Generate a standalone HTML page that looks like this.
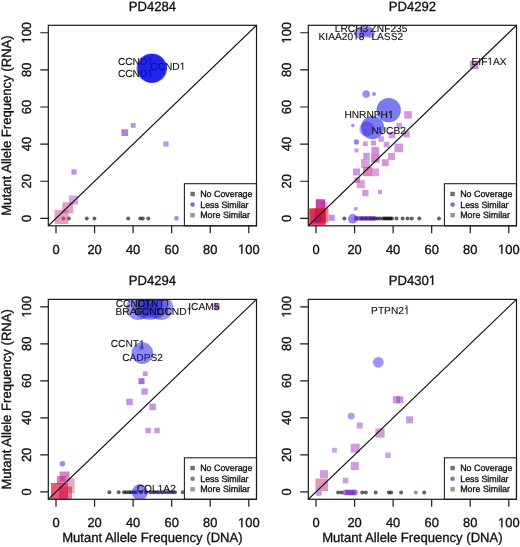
<!DOCTYPE html><html><head><meta charset="utf-8"><style>html,body{margin:0;padding:0;background:#fff;}svg{display:block;filter:blur(0.4px);}text{font-family:"Liberation Sans", sans-serif;text-rendering:geometricPrecision;fill:#111;stroke:#111;stroke-width:0.32px;}text.g{stroke-width:0.1px;}</style></head><body>
<svg width="520" height="547" viewBox="0 0 520 547">
<rect width="520" height="547" fill="#fff"/>
<clipPath id="clip0"><rect x="48.3" y="25.3" width="208.2" height="200.5"/></clipPath>
<g transform="translate(152.4 10.7) scale(1 1.02)">
<text class="t" x="-23.67" y="0" font-size="13.1">PD4284</text>
</g>
<g clip-path="url(#clip0)">
<circle cx="63.4" cy="218.4" r="2" fill="#000" fill-opacity="0.62"/>
<circle cx="68.8" cy="218.4" r="2" fill="#000" fill-opacity="0.62"/>
<circle cx="86.8" cy="218.4" r="2" fill="#000" fill-opacity="0.62"/>
<circle cx="94.4" cy="218.4" r="2" fill="#000" fill-opacity="0.62"/>
<circle cx="128.2" cy="218.4" r="2" fill="#000" fill-opacity="0.62"/>
<circle cx="140.3" cy="218.4" r="2" fill="#000" fill-opacity="0.62"/>
<circle cx="142.8" cy="218.4" r="2" fill="#000" fill-opacity="0.62"/>
<circle cx="148.3" cy="218.4" r="2" fill="#000" fill-opacity="0.62"/>
<circle cx="151" cy="68.3" r="14.6" fill="#0808e8" fill-opacity="0.55"/>
<circle cx="176.4" cy="218.4" r="2.4" fill="#6a40d0" fill-opacity="0.6"/>
<rect x="71.4" y="169.4" width="5.2" height="5.2" fill="#9a60e0" fill-opacity="0.7"/>
<rect x="121.4" y="129.2" width="6.8" height="6.8" fill="#9a50d0" fill-opacity="0.75"/>
<rect x="130.8" y="123" width="4.8" height="4.8" fill="#9a60e0" fill-opacity="0.7"/>
<rect x="163.4" y="141.4" width="5.2" height="5.2" fill="#a068e0" fill-opacity="0.7"/>
<rect x="69.1" y="195.5" width="9" height="9" fill="#c060d0" fill-opacity="0.6"/>
<rect x="62.3" y="202.2" width="11" height="11" fill="#d050a0" fill-opacity="0.55"/>
<rect x="54.5" y="210" width="14" height="14" fill="#d85088" fill-opacity="0.55"/>
<line x1="48.3" y1="225.8" x2="256.5" y2="25.3" stroke="#111" stroke-width="1.15"/>
</g>
<g transform="translate(117.9 65.1)">
<text class="g" x="0" y="0" font-size="10.2">CCND</text>
<path transform="translate(29.46 0) scale(0.004980 -0.004980)" d="M515 0H696V1409H530L197 1180V1010L515 1237Z" fill="#111" stroke="#111" stroke-width="20.08"/>
</g>
<g transform="translate(117.9 76.5)">
<text class="g" x="0" y="0" font-size="10.2">CCND</text>
<path transform="translate(29.46 0) scale(0.004980 -0.004980)" d="M515 0H696V1409H530L197 1180V1010L515 1237Z" fill="#111" stroke="#111" stroke-width="20.08"/>
</g>
<g transform="translate(150.3 69.7)">
<text class="g" x="0" y="0" font-size="10.2">CCND</text>
<path transform="translate(29.46 0) scale(0.004980 -0.004980)" d="M515 0H696V1409H530L197 1180V1010L515 1237Z" fill="#111" stroke="#111" stroke-width="20.08"/>
</g>
<g clip-path="url(#clip0)">
<circle cx="152.3" cy="68" r="14.6" fill="#0808e8" fill-opacity="0.5"/>
<circle cx="152.6" cy="68.6" r="14.4" fill="#0808e8" fill-opacity="0.5"/>
</g>
<rect x="184.4" y="183.7" width="72.1" height="42.1" fill="#fff" stroke="#222" stroke-width="1.1"/>
<rect x="190.4" y="191.8" width="4.4" height="4.4" fill="#6e6e6e"/>
<text transform="translate(200.2 197.1) scale(1 1.02)" font-size="8.9">No Coverage</text>
<circle cx="192.6" cy="204.6" r="2.3" fill="#7676b4"/>
<text transform="translate(200.2 207.7) scale(1 1.02)" font-size="8.9">Less Similar</text>
<rect x="190.4" y="213" width="4.4" height="4.4" fill="#b48a8a"/>
<text transform="translate(200.2 218.3) scale(1 1.02)" font-size="8.9">More Similar</text>
<rect x="48.3" y="25.3" width="208.2" height="200.5" fill="none" stroke="#1a1a1a" stroke-width="1.2"/>
<text transform="translate(56.01 253.7) scale(1 1.02)" font-size="12.9" text-anchor="middle">0</text>
<text transform="translate(31 218.37) rotate(-90) scale(1 1.02)" font-size="12.9" text-anchor="middle">0</text>
<text transform="translate(94.57 253.7) scale(1 1.02)" font-size="12.9" text-anchor="middle">20</text>
<text transform="translate(31 181.24) rotate(-90) scale(1 1.02)" font-size="12.9" text-anchor="middle">20</text>
<text transform="translate(133.12 253.7) scale(1 1.02)" font-size="12.9" text-anchor="middle">40</text>
<text transform="translate(31 144.11) rotate(-90) scale(1 1.02)" font-size="12.9" text-anchor="middle">40</text>
<text transform="translate(171.68 253.7) scale(1 1.02)" font-size="12.9" text-anchor="middle">60</text>
<text transform="translate(31 106.99) rotate(-90) scale(1 1.02)" font-size="12.9" text-anchor="middle">60</text>
<text transform="translate(210.23 253.7) scale(1 1.02)" font-size="12.9" text-anchor="middle">80</text>
<text transform="translate(31 69.86) rotate(-90) scale(1 1.02)" font-size="12.9" text-anchor="middle">80</text>
<g transform="translate(248.79 253.7) scale(1 1.02)">
<path transform="translate(-10.76 0) scale(0.006299 -0.006299)" d="M515 0H696V1409H530L197 1180V1010L515 1237Z" fill="#111" stroke="#111" stroke-width="50.8"/>
<text x="-3.59" y="0" font-size="12.9">00</text>
</g>
<g transform="translate(31 32.73) rotate(-90) scale(1 1.02)">
<path transform="translate(-10.76 0) scale(0.006299 -0.006299)" d="M515 0H696V1409H530L197 1180V1010L515 1237Z" fill="#111" stroke="#111" stroke-width="50.8"/>
<text x="-3.59" y="0" font-size="12.9">00</text>
</g>
<path d="M56.01 225.8V233.2M48.3 218.37H40.2M94.57 225.8V233.2M48.3 181.24H40.2M133.12 225.8V233.2M48.3 144.11H40.2M171.68 225.8V233.2M48.3 106.99H40.2M210.23 225.8V233.2M48.3 69.86H40.2M248.79 225.8V233.2M48.3 32.73H40.2" stroke="#1a1a1a" stroke-width="1.2" fill="none"/>
<clipPath id="clip1"><rect x="308.3" y="25.3" width="208.2" height="200.5"/></clipPath>
<g transform="translate(412.4 10.7) scale(1 1.02)">
<text class="t" x="-23.67" y="0" font-size="13.1">PD4292</text>
</g>
<g clip-path="url(#clip1)">
<circle cx="344.4" cy="218.4" r="2" fill="#000" fill-opacity="0.62"/>
<circle cx="362" cy="218.4" r="2" fill="#000" fill-opacity="0.62"/>
<circle cx="366" cy="218.4" r="2" fill="#000" fill-opacity="0.62"/>
<circle cx="370" cy="218.4" r="2" fill="#000" fill-opacity="0.62"/>
<circle cx="372.5" cy="218.4" r="2" fill="#000" fill-opacity="0.62"/>
<circle cx="375" cy="218.4" r="2" fill="#000" fill-opacity="0.62"/>
<circle cx="377.5" cy="218.4" r="2" fill="#000" fill-opacity="0.62"/>
<circle cx="380" cy="218.4" r="2" fill="#000" fill-opacity="0.62"/>
<circle cx="383" cy="218.4" r="2" fill="#000" fill-opacity="0.62"/>
<circle cx="384.5" cy="218.4" r="2" fill="#000" fill-opacity="0.62"/>
<circle cx="386" cy="218.4" r="2" fill="#000" fill-opacity="0.62"/>
<circle cx="387.5" cy="218.4" r="2" fill="#000" fill-opacity="0.62"/>
<circle cx="389" cy="218.4" r="2" fill="#000" fill-opacity="0.62"/>
<circle cx="390.5" cy="218.4" r="2" fill="#000" fill-opacity="0.62"/>
<circle cx="392" cy="218.4" r="2" fill="#000" fill-opacity="0.62"/>
<circle cx="396.5" cy="218.4" r="2" fill="#000" fill-opacity="0.62"/>
<circle cx="402.6" cy="218.4" r="2" fill="#000" fill-opacity="0.62"/>
<circle cx="407.5" cy="218.4" r="2" fill="#000" fill-opacity="0.62"/>
<circle cx="411.7" cy="218.4" r="2" fill="#000" fill-opacity="0.62"/>
<circle cx="419.3" cy="218.4" r="2" fill="#000" fill-opacity="0.62"/>
<circle cx="439" cy="218.4" r="2" fill="#000" fill-opacity="0.62"/>
<circle cx="360" cy="32.7" r="6" fill="#5030e0" fill-opacity="0.5"/>
<circle cx="366" cy="31" r="6.5" fill="#6040e0" fill-opacity="0.5"/>
<circle cx="370" cy="33" r="5" fill="#6040e0" fill-opacity="0.5"/>
<circle cx="366.2" cy="94.1" r="3.8" fill="#6040e0" fill-opacity="0.6"/>
<circle cx="374" cy="94.1" r="2" fill="#6040e0" fill-opacity="0.6"/>
<circle cx="388.7" cy="110.1" r="12.2" fill="#0c0ce8" fill-opacity="0.55"/>
<circle cx="372.6" cy="127.6" r="11.6" fill="#0c0ce8" fill-opacity="0.55"/>
<circle cx="366.8" cy="129" r="7.5" fill="#3010d8" fill-opacity="0.35"/>
<circle cx="352.8" cy="125.5" r="1.7" fill="#6040e0" fill-opacity="0.6"/>
<circle cx="356.4" cy="142" r="2.7" fill="#5030e0" fill-opacity="0.6"/>
<circle cx="352.8" cy="218.8" r="4.8" fill="#5030e8" fill-opacity="0.6"/>
<circle cx="356" cy="218.4" r="2.3" fill="#5010b0" fill-opacity="0.6"/>
<circle cx="358.5" cy="218.4" r="2.3" fill="#5010b0" fill-opacity="0.6"/>
<circle cx="361" cy="218.4" r="2.3" fill="#5010b0" fill-opacity="0.6"/>
<circle cx="363.5" cy="218.4" r="2.3" fill="#5010b0" fill-opacity="0.6"/>
<circle cx="366" cy="218.4" r="2.3" fill="#5010b0" fill-opacity="0.6"/>
<circle cx="368.5" cy="218.4" r="2.3" fill="#5010b0" fill-opacity="0.6"/>
<circle cx="371" cy="218.4" r="2.3" fill="#5010b0" fill-opacity="0.6"/>
<circle cx="374" cy="218.4" r="2.3" fill="#5010b0" fill-opacity="0.6"/>
<rect x="362.95" y="141.45" width="4.7" height="4.7" fill="#b060d0" fill-opacity="0.65"/>
<rect x="371" y="140.6" width="5" height="5" fill="#b060d0" fill-opacity="0.65"/>
<rect x="354.5" y="148.4" width="4" height="4" fill="#b060d0" fill-opacity="0.65"/>
<rect x="371.45" y="146.95" width="7.7" height="7.7" fill="#b858c8" fill-opacity="0.65"/>
<rect x="394.5" y="143.6" width="8.6" height="8.6" fill="#c060c8" fill-opacity="0.65"/>
<rect x="383.7" y="141.7" width="5.6" height="5.6" fill="#b860d0" fill-opacity="0.65"/>
<rect x="388.1" y="152.9" width="7" height="7" fill="#c060c8" fill-opacity="0.65"/>
<rect x="363.25" y="152.85" width="6.5" height="6.5" fill="#b060d0" fill-opacity="0.65"/>
<rect x="371.05" y="154.15" width="8.5" height="8.5" fill="#c03898" fill-opacity="0.6"/>
<rect x="361" y="159" width="8.8" height="8.8" fill="#c060c8" fill-opacity="0.6"/>
<rect x="381.8" y="159.2" width="7" height="7" fill="#c060c8" fill-opacity="0.65"/>
<rect x="353" y="168.5" width="7" height="7" fill="#b860c8" fill-opacity="0.65"/>
<rect x="363" y="167" width="9.2" height="9.2" fill="#c83080" fill-opacity="0.6"/>
<rect x="371.45" y="168.45" width="7.7" height="7.7" fill="#c060c0" fill-opacity="0.6"/>
<rect x="354.6" y="177.6" width="5.4" height="5.4" fill="#c04098" fill-opacity="0.65"/>
<rect x="356.8" y="180.2" width="8" height="8" fill="#c060c8" fill-opacity="0.6"/>
<rect x="362.3" y="190" width="6.2" height="6.2" fill="#b060d0" fill-opacity="0.65"/>
<rect x="377.9" y="189.8" width="4.2" height="4.2" fill="#b060d0" fill-opacity="0.65"/>
<rect x="403.35" y="131.05" width="6.3" height="6.3" fill="#b860d0" fill-opacity="0.65"/>
<rect x="388.75" y="131.75" width="6.5" height="6.5" fill="#b860d0" fill-opacity="0.65"/>
<rect x="404.25" y="111.15" width="7.5" height="7.5" fill="#c060c8" fill-opacity="0.65"/>
<rect x="396.45" y="123.05" width="5.5" height="5.5" fill="#b860d0" fill-opacity="0.65"/>
<rect x="378.35" y="136.25" width="5.5" height="5.5" fill="#b860d0" fill-opacity="0.65"/>
<rect x="469.95" y="60.75" width="8.5" height="8.5" fill="#b050b0" fill-opacity="0.65"/>
<rect x="354.05" y="207.05" width="3.5" height="3.5" fill="#9860d8" fill-opacity="0.65"/>
<rect x="320.5" y="202" width="7" height="7" fill="#d070c0" fill-opacity="0.5"/>
<rect x="315.75" y="199.25" width="9.5" height="9.5" fill="#b81898" fill-opacity="0.8"/>
<rect x="309.25" y="208.35" width="16.5" height="16.5" fill="#d80020" fill-opacity="0.8"/>
<rect x="314.5" y="208.5" width="14" height="14" fill="#d00028" fill-opacity="0.5"/>
<rect x="328.7" y="214.8" width="6" height="6" fill="#a040d0" fill-opacity="0.6"/>
<line x1="308.3" y1="225.8" x2="516.5" y2="25.3" stroke="#111" stroke-width="1.15"/>
</g>
<g transform="translate(334.8 31.7)">
<text class="g" x="0" y="0" font-size="10.2">LRCH3</text>
</g>
<g transform="translate(370.6 31.7)">
<text class="g" x="0" y="0" font-size="10.2">ZNF235</text>
</g>
<g transform="translate(318.5 39.6)">
<text class="g" x="0" y="0" font-size="10.2">KIAA20</text>
<path transform="translate(34.59 0) scale(0.004980 -0.004980)" d="M515 0H696V1409H530L197 1180V1010L515 1237Z" fill="#111" stroke="#111" stroke-width="20.08"/>
<text class="g" x="40.26" y="0" font-size="10.2">8</text>
</g>
<g transform="translate(371.4 39.6)">
<text class="g" x="0" y="0" font-size="10.2">LASS2</text>
</g>
<g transform="translate(471.5 64.7)">
<text class="g" x="0" y="0" font-size="10.2">EIF</text>
<path transform="translate(15.87 0) scale(0.004980 -0.004980)" d="M515 0H696V1409H530L197 1180V1010L515 1237Z" fill="#111" stroke="#111" stroke-width="20.08"/>
<text class="g" x="21.54" y="0" font-size="10.2">AX</text>
</g>
<g transform="translate(344.4 118.1)">
<text class="g" x="0" y="0" font-size="10.2">HNRNPH</text>
<path transform="translate(43.63 0) scale(0.004980 -0.004980)" d="M515 0H696V1409H530L197 1180V1010L515 1237Z" fill="#111" stroke="#111" stroke-width="20.08"/>
</g>
<g transform="translate(371.4 133.5)">
<text class="g" x="0" y="0" font-size="10.2">NUCB2</text>
</g>
<g clip-path="url(#clip1)">
<circle cx="317.5" cy="219.5" r="4" fill="#5010c0" fill-opacity="0.28"/>
</g>
<rect x="444.4" y="183.7" width="72.1" height="42.1" fill="#fff" stroke="#222" stroke-width="1.1"/>
<rect x="450.4" y="191.8" width="4.4" height="4.4" fill="#6e6e6e"/>
<text transform="translate(460.2 197.1) scale(1 1.02)" font-size="8.9">No Coverage</text>
<circle cx="452.6" cy="204.6" r="2.3" fill="#7676b4"/>
<text transform="translate(460.2 207.7) scale(1 1.02)" font-size="8.9">Less Similar</text>
<rect x="450.4" y="213" width="4.4" height="4.4" fill="#b48a8a"/>
<text transform="translate(460.2 218.3) scale(1 1.02)" font-size="8.9">More Similar</text>
<rect x="308.3" y="25.3" width="208.2" height="200.5" fill="none" stroke="#1a1a1a" stroke-width="1.2"/>
<text transform="translate(316.01 253.7) scale(1 1.02)" font-size="12.9" text-anchor="middle">0</text>
<text transform="translate(291 218.37) rotate(-90) scale(1 1.02)" font-size="12.9" text-anchor="middle">0</text>
<text transform="translate(354.57 253.7) scale(1 1.02)" font-size="12.9" text-anchor="middle">20</text>
<text transform="translate(291 181.24) rotate(-90) scale(1 1.02)" font-size="12.9" text-anchor="middle">20</text>
<text transform="translate(393.12 253.7) scale(1 1.02)" font-size="12.9" text-anchor="middle">40</text>
<text transform="translate(291 144.11) rotate(-90) scale(1 1.02)" font-size="12.9" text-anchor="middle">40</text>
<text transform="translate(431.68 253.7) scale(1 1.02)" font-size="12.9" text-anchor="middle">60</text>
<text transform="translate(291 106.99) rotate(-90) scale(1 1.02)" font-size="12.9" text-anchor="middle">60</text>
<text transform="translate(470.23 253.7) scale(1 1.02)" font-size="12.9" text-anchor="middle">80</text>
<text transform="translate(291 69.86) rotate(-90) scale(1 1.02)" font-size="12.9" text-anchor="middle">80</text>
<g transform="translate(508.79 253.7) scale(1 1.02)">
<path transform="translate(-10.76 0) scale(0.006299 -0.006299)" d="M515 0H696V1409H530L197 1180V1010L515 1237Z" fill="#111" stroke="#111" stroke-width="50.8"/>
<text x="-3.59" y="0" font-size="12.9">00</text>
</g>
<g transform="translate(291 32.73) rotate(-90) scale(1 1.02)">
<path transform="translate(-10.76 0) scale(0.006299 -0.006299)" d="M515 0H696V1409H530L197 1180V1010L515 1237Z" fill="#111" stroke="#111" stroke-width="50.8"/>
<text x="-3.59" y="0" font-size="12.9">00</text>
</g>
<path d="M316.01 225.8V233.2M308.3 218.37H300.2M354.57 225.8V233.2M308.3 181.24H300.2M393.12 225.8V233.2M308.3 144.11H300.2M431.68 225.8V233.2M308.3 106.99H300.2M470.23 225.8V233.2M308.3 69.86H300.2M508.79 225.8V233.2M308.3 32.73H300.2" stroke="#1a1a1a" stroke-width="1.2" fill="none"/>
<clipPath id="clip2"><rect x="48.3" y="299.4" width="208.2" height="199.9"/></clipPath>
<g transform="translate(152.4 284.8) scale(1 1.02)">
<text class="t" x="-23.67" y="0" font-size="13.1">PD4294</text>
</g>
<g clip-path="url(#clip2)">
<circle cx="109.4" cy="492.3" r="2" fill="#000" fill-opacity="0.62"/>
<circle cx="118.6" cy="492.3" r="2" fill="#000" fill-opacity="0.62"/>
<circle cx="124" cy="492.3" r="2" fill="#000" fill-opacity="0.62"/>
<circle cx="126.3" cy="492.3" r="2" fill="#000" fill-opacity="0.62"/>
<circle cx="129" cy="492.3" r="2" fill="#000" fill-opacity="0.62"/>
<circle cx="131" cy="492.3" r="2" fill="#000" fill-opacity="0.62"/>
<circle cx="133.5" cy="492.3" r="2" fill="#000" fill-opacity="0.62"/>
<circle cx="136" cy="492.3" r="2" fill="#000" fill-opacity="0.62"/>
<circle cx="141" cy="492.3" r="2" fill="#000" fill-opacity="0.62"/>
<circle cx="146" cy="492.3" r="2" fill="#000" fill-opacity="0.62"/>
<circle cx="151" cy="492.3" r="2" fill="#000" fill-opacity="0.62"/>
<circle cx="154" cy="492.3" r="2" fill="#000" fill-opacity="0.62"/>
<circle cx="157" cy="492.3" r="2" fill="#000" fill-opacity="0.62"/>
<circle cx="160" cy="492.3" r="2" fill="#000" fill-opacity="0.62"/>
<circle cx="163" cy="492.3" r="2" fill="#000" fill-opacity="0.62"/>
<circle cx="166" cy="492.3" r="2" fill="#000" fill-opacity="0.62"/>
<circle cx="169" cy="492.3" r="2" fill="#000" fill-opacity="0.62"/>
<circle cx="172" cy="492.3" r="2" fill="#000" fill-opacity="0.62"/>
<circle cx="175" cy="492.3" r="2" fill="#000" fill-opacity="0.62"/>
<circle cx="182.7" cy="492.3" r="2" fill="#000" fill-opacity="0.62"/>
<circle cx="138.3" cy="308" r="12" fill="#1010e8" fill-opacity="0.45"/>
<circle cx="145" cy="307" r="12" fill="#1010e8" fill-opacity="0.38"/>
<circle cx="150" cy="308" r="12" fill="#1010e8" fill-opacity="0.38"/>
<circle cx="155" cy="307" r="12" fill="#1010e8" fill-opacity="0.38"/>
<circle cx="161.3" cy="308" r="12" fill="#1010e8" fill-opacity="0.45"/>
<circle cx="62.4" cy="463.7" r="2.8" fill="#5840e0" fill-opacity="0.6"/>
<circle cx="139.8" cy="492.3" r="8" fill="#2214ea" fill-opacity="0.52"/>
<circle cx="216.7" cy="306.7" r="2" fill="#6040c0" fill-opacity="0.4"/>
<circle cx="146" cy="492.3" r="2" fill="#4020c0" fill-opacity="0.5"/>
<circle cx="150" cy="492.3" r="2" fill="#4020c0" fill-opacity="0.5"/>
<circle cx="154" cy="492.3" r="2" fill="#4020c0" fill-opacity="0.5"/>
<circle cx="158" cy="492.3" r="2" fill="#4020c0" fill-opacity="0.5"/>
<circle cx="163" cy="492.3" r="2" fill="#4020c0" fill-opacity="0.5"/>
<circle cx="168" cy="492.3" r="2" fill="#4020c0" fill-opacity="0.5"/>
<circle cx="173" cy="492.3" r="2" fill="#4020c0" fill-opacity="0.5"/>
<rect x="142.95" y="371.45" width="4.7" height="4.7" fill="#a070e0" fill-opacity="0.7"/>
<rect x="138.5" y="378.2" width="6" height="6" fill="#9040c0" fill-opacity="0.75"/>
<rect x="141.5" y="388.4" width="6.2" height="6.2" fill="#a868d8" fill-opacity="0.7"/>
<rect x="126.25" y="398.65" width="6.5" height="6.5" fill="#a868d8" fill-opacity="0.7"/>
<rect x="149.35" y="403.65" width="6.5" height="6.5" fill="#a868d8" fill-opacity="0.7"/>
<rect x="145.5" y="427.8" width="5.4" height="5.4" fill="#a870d8" fill-opacity="0.7"/>
<rect x="154.3" y="427.8" width="5.4" height="5.4" fill="#a870d8" fill-opacity="0.7"/>
<rect x="213.7" y="303.7" width="6" height="6" fill="#8050b0" fill-opacity="0.7"/>
<rect x="59.6" y="471.5" width="10" height="10" fill="#c040a0" fill-opacity="0.65"/>
<rect x="56.95" y="476.05" width="8.5" height="8.5" fill="#c02890" fill-opacity="0.6"/>
<rect x="67.15" y="478.25" width="7.5" height="7.5" fill="#d070a8" fill-opacity="0.6"/>
<rect x="67.15" y="485.75" width="7.5" height="7.5" fill="#d06090" fill-opacity="0.5"/>
<rect x="51" y="483" width="17" height="17" fill="#e01040" fill-opacity="0.7"/>
<rect x="59" y="486.5" width="13" height="13" fill="#d81040" fill-opacity="0.55"/>
<line x1="48.3" y1="499.3" x2="256.5" y2="299.4" stroke="#111" stroke-width="1.15"/>
</g>
<g transform="translate(115.7 306.5)">
<text class="g" x="0" y="0" font-size="10.2">CCND</text>
<path transform="translate(29.46 0) scale(0.004980 -0.004980)" d="M515 0H696V1409H530L197 1180V1010L515 1237Z" fill="#111" stroke="#111" stroke-width="20.08"/>
</g>
<g transform="translate(137.5 306.5)">
<text class="g" x="0" y="0" font-size="10.2">CTNT</text>
<path transform="translate(27.19 0) scale(0.004980 -0.004980)" d="M515 0H696V1409H530L197 1180V1010L515 1237Z" fill="#111" stroke="#111" stroke-width="20.08"/>
</g>
<g transform="translate(115.5 314.6)">
<text class="g" x="0" y="0" font-size="10.2">BRAF</text>
</g>
<g transform="translate(134.5 314.6)">
<text class="g" x="0" y="0" font-size="10.2">CCND</text>
<path transform="translate(29.46 0) scale(0.004980 -0.004980)" d="M515 0H696V1409H530L197 1180V1010L515 1237Z" fill="#111" stroke="#111" stroke-width="20.08"/>
</g>
<g transform="translate(157.1 314.6)">
<text class="g" x="0" y="0" font-size="10.2">CCND</text>
<path transform="translate(29.46 0) scale(0.004980 -0.004980)" d="M515 0H696V1409H530L197 1180V1010L515 1237Z" fill="#111" stroke="#111" stroke-width="20.08"/>
</g>
<g transform="translate(188.2 309.9)">
<text class="g" x="0" y="0" font-size="10.2">ICAM5</text>
</g>
<g transform="translate(110.7 347.4)">
<text class="g" x="0" y="0" font-size="10.2">CCNT</text>
<path transform="translate(28.33 0) scale(0.004980 -0.004980)" d="M515 0H696V1409H530L197 1180V1010L515 1237Z" fill="#111" stroke="#111" stroke-width="20.08"/>
</g>
<g transform="translate(122.2 360.5)">
<text class="g" x="0" y="0" font-size="10.2">CADPS2</text>
</g>
<g transform="translate(136.7 492)">
<text class="g" x="0" y="0" font-size="10.2">COL</text>
<path transform="translate(20.97 0) scale(0.004980 -0.004980)" d="M515 0H696V1409H530L197 1180V1010L515 1237Z" fill="#111" stroke="#111" stroke-width="20.08"/>
<text class="g" x="26.65" y="0" font-size="10.2">A2</text>
</g>
<g clip-path="url(#clip2)">
<circle cx="142.3" cy="353.1" r="10.8" fill="#2214ea" fill-opacity="0.5"/>
<circle cx="141.5" cy="347.7" r="2.3" fill="#2020c0" fill-opacity="0.5"/>
</g>
<rect x="184.4" y="457.8" width="72.1" height="41.5" fill="#fff" stroke="#222" stroke-width="1.1"/>
<rect x="190.4" y="465.9" width="4.4" height="4.4" fill="#6e6e6e"/>
<text transform="translate(200.2 471.2) scale(1 1.02)" font-size="8.9">No Coverage</text>
<circle cx="192.6" cy="478.7" r="2.3" fill="#7676b4"/>
<text transform="translate(200.2 481.8) scale(1 1.02)" font-size="8.9">Less Similar</text>
<rect x="190.4" y="487.1" width="4.4" height="4.4" fill="#b48a8a"/>
<text transform="translate(200.2 492.4) scale(1 1.02)" font-size="8.9">More Similar</text>
<rect x="48.3" y="299.4" width="208.2" height="199.9" fill="none" stroke="#1a1a1a" stroke-width="1.2"/>
<text transform="translate(56.01 527.2) scale(1 1.02)" font-size="12.9" text-anchor="middle">0</text>
<text transform="translate(31 491.9) rotate(-90) scale(1 1.02)" font-size="12.9" text-anchor="middle">0</text>
<text transform="translate(94.57 527.2) scale(1 1.02)" font-size="12.9" text-anchor="middle">20</text>
<text transform="translate(31 454.88) rotate(-90) scale(1 1.02)" font-size="12.9" text-anchor="middle">20</text>
<text transform="translate(133.12 527.2) scale(1 1.02)" font-size="12.9" text-anchor="middle">40</text>
<text transform="translate(31 417.86) rotate(-90) scale(1 1.02)" font-size="12.9" text-anchor="middle">40</text>
<text transform="translate(171.68 527.2) scale(1 1.02)" font-size="12.9" text-anchor="middle">60</text>
<text transform="translate(31 380.84) rotate(-90) scale(1 1.02)" font-size="12.9" text-anchor="middle">60</text>
<text transform="translate(210.23 527.2) scale(1 1.02)" font-size="12.9" text-anchor="middle">80</text>
<text transform="translate(31 343.82) rotate(-90) scale(1 1.02)" font-size="12.9" text-anchor="middle">80</text>
<g transform="translate(248.79 527.2) scale(1 1.02)">
<path transform="translate(-10.76 0) scale(0.006299 -0.006299)" d="M515 0H696V1409H530L197 1180V1010L515 1237Z" fill="#111" stroke="#111" stroke-width="50.8"/>
<text x="-3.59" y="0" font-size="12.9">00</text>
</g>
<g transform="translate(31 306.8) rotate(-90) scale(1 1.02)">
<path transform="translate(-10.76 0) scale(0.006299 -0.006299)" d="M515 0H696V1409H530L197 1180V1010L515 1237Z" fill="#111" stroke="#111" stroke-width="50.8"/>
<text x="-3.59" y="0" font-size="12.9">00</text>
</g>
<path d="M56.01 499.3V506.7M48.3 491.9H40.2M94.57 499.3V506.7M48.3 454.88H40.2M133.12 499.3V506.7M48.3 417.86H40.2M171.68 499.3V506.7M48.3 380.84H40.2M210.23 499.3V506.7M48.3 343.82H40.2M248.79 499.3V506.7M48.3 306.8H40.2" stroke="#1a1a1a" stroke-width="1.2" fill="none"/>
<clipPath id="clip3"><rect x="308.3" y="299.4" width="208.2" height="199.9"/></clipPath>
<g transform="translate(412.4 284.8) scale(1 1.02)">
<text class="t" x="-23.67" y="0" font-size="13.1">PD430</text>
<path transform="translate(16.38 0) scale(0.006396 -0.006396)" d="M515 0H696V1409H530L197 1180V1010L515 1237Z" fill="#111" stroke="#111" stroke-width="50.03"/>
</g>
<g clip-path="url(#clip3)">
<circle cx="338.1" cy="492.4" r="2" fill="#000" fill-opacity="0.62"/>
<circle cx="341.5" cy="492.4" r="2" fill="#000" fill-opacity="0.62"/>
<circle cx="362.3" cy="492.4" r="2" fill="#000" fill-opacity="0.62"/>
<circle cx="365.8" cy="492.4" r="2" fill="#000" fill-opacity="0.62"/>
<circle cx="375.7" cy="492.4" r="2" fill="#000" fill-opacity="0.62"/>
<circle cx="388.9" cy="492.4" r="2" fill="#000" fill-opacity="0.62"/>
<circle cx="391.2" cy="492.4" r="2" fill="#000" fill-opacity="0.62"/>
<circle cx="401.1" cy="492.4" r="2" fill="#000" fill-opacity="0.62"/>
<circle cx="424.2" cy="492.4" r="2" fill="#000" fill-opacity="0.62"/>
<circle cx="406.6" cy="306" r="1.3" fill="#5040e0" fill-opacity="0.6"/>
<circle cx="378.3" cy="362.3" r="5.4" fill="#4a30e8" fill-opacity="0.52"/>
<circle cx="351.2" cy="416.2" r="3.4" fill="#5a40e0" fill-opacity="0.5"/>
<circle cx="318.6" cy="493" r="3" fill="#9070e0" fill-opacity="0.6"/>
<circle cx="415.9" cy="492.4" r="2" fill="#4040c0" fill-opacity="0.6"/>
<circle cx="345.5" cy="492.4" r="2.9" fill="#7010c0" fill-opacity="0.55"/>
<circle cx="348" cy="492.4" r="2.9" fill="#7010c0" fill-opacity="0.55"/>
<circle cx="350.5" cy="492.4" r="2.9" fill="#7010c0" fill-opacity="0.55"/>
<circle cx="353" cy="492.4" r="2.9" fill="#7010c0" fill-opacity="0.55"/>
<circle cx="355" cy="492.4" r="2.9" fill="#7010c0" fill-opacity="0.55"/>
<rect x="392.9" y="396.2" width="7.2" height="7.2" fill="#b070d0" fill-opacity="0.7"/>
<rect x="396.3" y="396.3" width="7" height="7" fill="#a050c0" fill-opacity="0.6"/>
<rect x="356.7" y="422.5" width="6" height="6" fill="#b070d0" fill-opacity="0.7"/>
<rect x="406.1" y="416.3" width="7" height="7" fill="#b070d0" fill-opacity="0.7"/>
<rect x="375.4" y="428.5" width="9.2" height="9.2" fill="#c070c0" fill-opacity="0.7"/>
<rect x="350.7" y="443.7" width="9" height="9" fill="#c070c8" fill-opacity="0.7"/>
<rect x="332.1" y="447.8" width="4.8" height="4.8" fill="#b080d8" fill-opacity="0.7"/>
<rect x="385.25" y="452.55" width="5.5" height="5.5" fill="#b080d8" fill-opacity="0.7"/>
<rect x="350.8" y="462.1" width="8" height="8" fill="#c070d0" fill-opacity="0.7"/>
<rect x="320" y="470.1" width="8" height="8" fill="#c070d0" fill-opacity="0.7"/>
<rect x="342.65" y="477.75" width="5.7" height="5.7" fill="#b080d8" fill-opacity="0.7"/>
<rect x="315.45" y="478.55" width="12.5" height="12.5" fill="#c85088" fill-opacity="0.6"/>
<rect x="316" y="489.8" width="6" height="6" fill="#c0a0e0" fill-opacity="0.5"/>
<line x1="308.3" y1="499.3" x2="516.5" y2="299.4" stroke="#111" stroke-width="1.15"/>
</g>
<g transform="translate(371.1 314.2)">
<text class="g" x="0" y="0" font-size="10.2">PTPN2</text>
<path transform="translate(32.88 0) scale(0.004980 -0.004980)" d="M515 0H696V1409H530L197 1180V1010L515 1237Z" fill="#111" stroke="#111" stroke-width="20.08"/>
</g>
<rect x="444.4" y="457.8" width="72.1" height="41.5" fill="#fff" stroke="#222" stroke-width="1.1"/>
<rect x="450.4" y="465.9" width="4.4" height="4.4" fill="#6e6e6e"/>
<text transform="translate(460.2 471.2) scale(1 1.02)" font-size="8.9">No Coverage</text>
<circle cx="452.6" cy="478.7" r="2.3" fill="#7676b4"/>
<text transform="translate(460.2 481.8) scale(1 1.02)" font-size="8.9">Less Similar</text>
<rect x="450.4" y="487.1" width="4.4" height="4.4" fill="#b48a8a"/>
<text transform="translate(460.2 492.4) scale(1 1.02)" font-size="8.9">More Similar</text>
<rect x="308.3" y="299.4" width="208.2" height="199.9" fill="none" stroke="#1a1a1a" stroke-width="1.2"/>
<text transform="translate(316.01 527.2) scale(1 1.02)" font-size="12.9" text-anchor="middle">0</text>
<text transform="translate(291 491.9) rotate(-90) scale(1 1.02)" font-size="12.9" text-anchor="middle">0</text>
<text transform="translate(354.57 527.2) scale(1 1.02)" font-size="12.9" text-anchor="middle">20</text>
<text transform="translate(291 454.88) rotate(-90) scale(1 1.02)" font-size="12.9" text-anchor="middle">20</text>
<text transform="translate(393.12 527.2) scale(1 1.02)" font-size="12.9" text-anchor="middle">40</text>
<text transform="translate(291 417.86) rotate(-90) scale(1 1.02)" font-size="12.9" text-anchor="middle">40</text>
<text transform="translate(431.68 527.2) scale(1 1.02)" font-size="12.9" text-anchor="middle">60</text>
<text transform="translate(291 380.84) rotate(-90) scale(1 1.02)" font-size="12.9" text-anchor="middle">60</text>
<text transform="translate(470.23 527.2) scale(1 1.02)" font-size="12.9" text-anchor="middle">80</text>
<text transform="translate(291 343.82) rotate(-90) scale(1 1.02)" font-size="12.9" text-anchor="middle">80</text>
<g transform="translate(508.79 527.2) scale(1 1.02)">
<path transform="translate(-10.76 0) scale(0.006299 -0.006299)" d="M515 0H696V1409H530L197 1180V1010L515 1237Z" fill="#111" stroke="#111" stroke-width="50.8"/>
<text x="-3.59" y="0" font-size="12.9">00</text>
</g>
<g transform="translate(291 306.8) rotate(-90) scale(1 1.02)">
<path transform="translate(-10.76 0) scale(0.006299 -0.006299)" d="M515 0H696V1409H530L197 1180V1010L515 1237Z" fill="#111" stroke="#111" stroke-width="50.8"/>
<text x="-3.59" y="0" font-size="12.9">00</text>
</g>
<path d="M316.01 499.3V506.7M308.3 491.9H300.2M354.57 499.3V506.7M308.3 454.88H300.2M393.12 499.3V506.7M308.3 417.86H300.2M431.68 499.3V506.7M308.3 380.84H300.2M470.23 499.3V506.7M308.3 343.82H300.2M508.79 499.3V506.7M308.3 306.8H300.2" stroke="#1a1a1a" stroke-width="1.2" fill="none"/>
<text transform="translate(10.9 125.55) rotate(-90) scale(1 1.02)" font-size="13.1" text-anchor="middle">Mutant Allele Frequency (RNA)</text>
<text transform="translate(10.9 399.35) rotate(-90) scale(1 1.02)" font-size="13.1" text-anchor="middle">Mutant Allele Frequency (RNA)</text>
<text transform="translate(152.4 542.3) scale(1 1.02)" font-size="13.1" text-anchor="middle">Mutant Allele Frequency (DNA)</text>
<text transform="translate(412.4 542.3) scale(1 1.02)" font-size="13.1" text-anchor="middle">Mutant Allele Frequency (DNA)</text>
</svg></body></html>
